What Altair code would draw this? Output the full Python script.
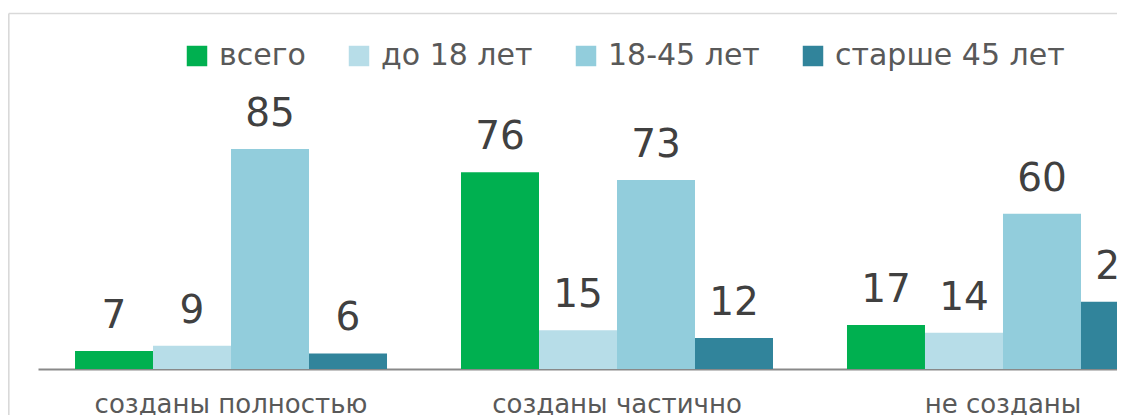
import altair as alt
import pandas as pd

categories = ["созданы полностью", "созданы частично", "не созданы"]
series = ["всего", "до 18 лет", "18-45 лет", "старше 45 лет"]
values_total = [7, 76, 17]
values_u18 = [9, 15, 14]
values_18_45 = [85, 73, 60]
values_45p = [6, 12, 26]
colors = ["#00B050", "#B7DDE8", "#92CDDC", "#31849B"]

rows = []
for s, vals in zip(series, [values_total, values_u18, values_18_45, values_45p]):
    for c, v in zip(categories, vals):
        rows.append({"cat": c, "ser": s, "val": v})
df = pd.DataFrame(rows)

FONT = "DejaVu Sans"

x_enc = alt.X("cat:N", sort=categories,
              scale=alt.Scale(range=[0, 1158], paddingInner=0.1917, paddingOuter=0.0959),
              axis=alt.Axis(title=None, ticks=False, domainColor="#898989", domainWidth=2,
                            labelFontSize=26, labelColor="#595959", labelFont=FONT,
                            labelPadding=22, labelAngle=0, labelBaseline="top",
                            labelLimit=600))
xo_enc = alt.XOffset("ser:N", sort=series, scale=alt.Scale(paddingInner=0, paddingOuter=0))
y_enc = alt.Y("val:Q", scale=alt.Scale(domain=[0, 139.5], nice=False), axis=None)

base = alt.Chart(df)

bars = base.mark_bar(clip=False).encode(
    x=x_enc, xOffset=xo_enc, y=y_enc,
    color=alt.Color("ser:N", sort=series,
                    scale=alt.Scale(domain=series, range=colors),
                    legend=alt.Legend(title=None, orient="none", legendX=144, legendY=33,
                                      direction="horizontal", symbolType="square",
                                      symbolSize=420, symbolStrokeWidth=0,
                                      labelFontSize=30, labelFont=FONT, labelColor="#595959",
                                      labelOffset=7, columnPadding=38, labelLimit=400)),
)

labels = base.mark_text(baseline="alphabetic", dy=-23, fontSize=39, font=FONT,
                        color="#404040").encode(
    x=x_enc, xOffset=xo_enc, y=y_enc, text="val:Q")

one = pd.DataFrame({"a": [0]})
frame_top = alt.Chart(one).mark_rule(color="#D9D9D9", strokeWidth=1.6).encode(
    x=alt.value(-29.2), x2=alt.value(1500), y=alt.value(5.5))
frame_left = alt.Chart(one).mark_rule(color="#D9D9D9", strokeWidth=1.6).encode(
    x=alt.value(-29.2), y=alt.value(5.5), y2=alt.value(1000))

chart = alt.layer(frame_top, frame_left, bars, labels).properties(
    width=1079, height=361,
    autosize=alt.AutoSizeParams(type="none"),
    padding={"left": 30, "top": 0, "right": 0, "bottom": 46},
).configure(font=FONT).configure_view(stroke=None, strokeWidth=0)

chart.save("out.html", embed_options={"renderer": "svg", "actions": False})
